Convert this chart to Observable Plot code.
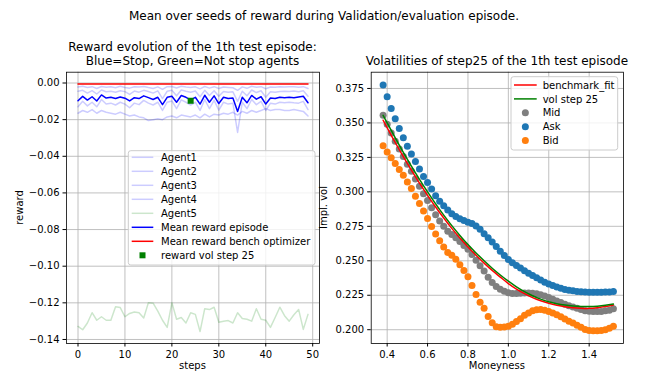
<!DOCTYPE html>
<html><head><meta charset="utf-8">
<script src="https://cdn.jsdelivr.net/npm/d3@7"></script>
<script src="https://cdn.jsdelivr.net/npm/@observablehq/plot@0.6"></script>
<style>
html,body{margin:0;padding:0;background:#fff;}
#root{position:relative;width:648px;height:377px;overflow:hidden;background:#fff;font-family:"DejaVu Sans",sans-serif;}
</style></head><body><div id="root"></div>
<script>
// ---------------- Left panel data ----------------
const steps = [0,1,2,3,4,5,6,7,8,9,10,11,12,13,14,15,16,17,18,19,20,21,22,23,24,25,26,27,28,29,30,31,32,33,34,35,36,37,38,39,40,41,42,43,44,45,46,47,48,49];
const agent1 = [-0.0022,-0.0018,-0.0025,-0.0020,-0.0030,-0.0019,-0.0023,-0.0021,-0.0026,-0.0018,-0.0024,-0.0028,-0.0020,-0.0022,-0.0019,-0.0025,-0.0030,-0.0021,-0.0035,-0.0020,-0.0019,-0.0027,-0.0018,-0.0022,-0.0024,-0.0021,-0.0032,-0.0019,-0.0028,-0.0020,-0.0030,-0.0022,-0.0024,-0.0026,-0.0040,-0.0021,-0.0029,-0.0018,-0.0023,-0.0020,-0.0031,-0.0022,-0.0023,-0.0021,-0.0022,-0.0020,-0.0021,-0.0023,-0.0020,-0.0030];
const agent2 = [-0.0045,-0.0040,-0.0055,-0.0042,-0.0060,-0.0038,-0.0048,-0.0045,-0.0050,-0.0042,-0.0047,-0.0062,-0.0044,-0.0050,-0.0040,-0.0046,-0.0055,-0.0043,-0.0085,-0.0045,-0.0040,-0.0070,-0.0038,-0.0045,-0.0050,-0.0044,-0.0075,-0.0040,-0.0068,-0.0042,-0.0072,-0.0046,-0.0050,-0.0048,-0.0100,-0.0045,-0.0070,-0.0038,-0.0052,-0.0042,-0.0078,-0.0048,-0.0050,-0.0046,-0.0045,-0.0046,-0.0044,-0.0048,-0.0042,-0.0072];
const agent3 = [-0.0130,-0.0100,-0.0125,-0.0105,-0.0130,-0.0090,-0.0115,-0.0110,-0.0120,-0.0105,-0.0115,-0.0135,-0.0110,-0.0118,-0.0095,-0.0110,-0.0120,-0.0105,-0.0150,-0.0105,-0.0098,-0.0140,-0.0092,-0.0105,-0.0120,-0.0105,-0.0150,-0.0090,-0.0140,-0.0095,-0.0148,-0.0105,-0.0115,-0.0110,-0.0270,-0.0105,-0.0140,-0.0090,-0.0118,-0.0100,-0.0150,-0.0110,-0.0115,-0.0105,-0.0108,-0.0105,-0.0108,-0.0110,-0.0100,-0.0145];
const agent4 = [-0.0165,-0.0150,-0.0160,-0.0145,-0.0165,-0.0150,-0.0160,-0.0165,-0.0170,-0.0160,-0.0170,-0.0180,-0.0175,-0.0185,-0.0190,-0.0205,-0.0200,-0.0195,-0.0200,-0.0185,-0.0180,-0.0190,-0.0175,-0.0180,-0.0185,-0.0175,-0.0190,-0.0170,-0.0185,-0.0170,-0.0175,-0.0165,-0.0170,-0.0160,-0.0175,-0.0155,-0.0165,-0.0150,-0.0160,-0.0150,-0.0140,-0.0150,-0.0145,-0.0145,-0.0150,-0.0150,-0.0145,-0.0150,-0.0155,-0.0180];
const agent5 = [-0.1329,-0.1347,-0.1310,-0.1254,-0.1295,-0.1276,-0.1295,-0.1295,-0.1221,-0.1226,-0.1276,-0.1258,-0.1250,-0.1254,-0.1283,-0.1199,-0.1202,-0.1245,-0.1295,-0.1334,-0.1199,-0.1290,-0.1280,-0.1310,-0.1254,-0.1263,-0.1357,-0.1232,-0.1237,-0.1224,-0.1306,-0.1300,-0.1297,-0.1310,-0.1254,-0.1286,-0.1290,-0.1300,-0.1232,-0.1290,-0.1295,-0.1334,-0.1280,-0.1224,-0.1270,-0.1300,-0.1265,-0.1236,-0.1345,-0.1263];
const meanRewardEpisode = [-0.0097,-0.0073,-0.0093,-0.0075,-0.0098,-0.0065,-0.0082,-0.0078,-0.0085,-0.0076,-0.0083,-0.0098,-0.0080,-0.0085,-0.0070,-0.0080,-0.0090,-0.0078,-0.0118,-0.0078,-0.0072,-0.0105,-0.0068,-0.0078,-0.0092,-0.0078,-0.0115,-0.0067,-0.0105,-0.0070,-0.0112,-0.0078,-0.0085,-0.0082,-0.0155,-0.0078,-0.0108,-0.0068,-0.0088,-0.0075,-0.0115,-0.0082,-0.0085,-0.0078,-0.0080,-0.0078,-0.0080,-0.0076,-0.0072,-0.0108];
const meanRewardBench = [-0.0006,-0.0006,-0.0006,-0.0006,-0.0006,-0.0006,-0.0006,-0.0006,-0.0006,-0.0006,-0.0006,-0.0006,-0.0006,-0.0006,-0.0006,-0.0006,-0.0006,-0.0006,-0.0006,-0.0006,-0.0006,-0.0006,-0.0006,-0.0006,-0.0006,-0.0006,-0.0006,-0.0006,-0.0006,-0.0006,-0.0006,-0.0006,-0.0006,-0.0006,-0.0006,-0.0006,-0.0006,-0.0006,-0.0006,-0.0006,-0.0006,-0.0006,-0.0006,-0.0006,-0.0006,-0.0006,-0.0006,-0.0006,-0.0006,-0.0006];
const volStepIndex = [24];
const volStepReward = [-0.0097];
const stepTicks = [0,10,20,30,40,50];
const rewardTicks = [0,-0.02,-0.04,-0.06,-0.08,-0.10,-0.12,-0.14];

// ---------------- Right panel data ----------------
const moneyness = [0.38,0.40,0.42,0.44,0.46,0.48,0.50,0.52,0.54,0.56,0.58,0.60,0.62,0.64,0.66,0.68,0.70,0.72,0.74,0.76,0.78,0.80,0.82,0.84,0.86,0.88,0.90,0.92,0.94,0.96,0.98,1.00,1.02,1.04,1.06,1.08,1.10,1.12,1.14,1.16,1.18,1.20,1.22,1.24,1.26,1.28,1.30,1.32,1.34,1.36,1.38,1.40,1.42,1.44,1.46,1.48,1.50,1.52];
const askVol = [0.3775,0.3690,0.3605,0.3530,0.3460,0.3393,0.3330,0.3275,0.3220,0.3165,0.3112,0.3068,0.3020,0.2972,0.2932,0.2900,0.2868,0.2842,0.2822,0.2805,0.2792,0.2780,0.2770,0.2752,0.2728,0.2697,0.2667,0.2636,0.2603,0.2570,0.2538,0.2510,0.2485,0.2465,0.2447,0.2428,0.2410,0.2393,0.2377,0.2360,0.2345,0.2332,0.2320,0.2310,0.2300,0.2292,0.2286,0.2282,0.2278,0.2275,0.2273,0.2272,0.2272,0.2272,0.2272,0.2273,0.2274,0.2278];
const midVol = [0.3555,0.3490,0.3427,0.3368,0.3311,0.3257,0.3201,0.3150,0.3094,0.3040,0.2987,0.2937,0.2884,0.2834,0.2789,0.2750,0.2714,0.2691,0.2667,0.2639,0.2611,0.2583,0.2545,0.2504,0.2464,0.2426,0.2381,0.2343,0.2313,0.2294,0.2279,0.2268,0.2263,0.2263,0.2264,0.2267,0.2266,0.2265,0.2261,0.2253,0.2244,0.2233,0.2221,0.2209,0.2197,0.2185,0.2174,0.2165,0.2155,0.2146,0.2138,0.2134,0.2132,0.2132,0.2133,0.2137,0.2142,0.2152];
const bidVol = [0.3335,0.3290,0.3248,0.3205,0.3162,0.3120,0.3072,0.3024,0.2968,0.2915,0.2861,0.2806,0.2748,0.2695,0.2645,0.2600,0.2560,0.2540,0.2512,0.2472,0.2430,0.2385,0.2320,0.2255,0.2200,0.2155,0.2095,0.2050,0.2022,0.2018,0.2020,0.2025,0.2040,0.2060,0.2080,0.2105,0.2122,0.2137,0.2145,0.2146,0.2142,0.2133,0.2122,0.2108,0.2094,0.2078,0.2062,0.2048,0.2032,0.2017,0.2002,0.1995,0.1992,0.1992,0.1994,0.2000,0.2010,0.2025];
const fitMoneyness = [0.38,0.40,0.44,0.48,0.52,0.56,0.60,0.64,0.68,0.72,0.76,0.80,0.84,0.88,0.92,0.96,1.00,1.04,1.08,1.12,1.16,1.20,1.24,1.28,1.32,1.36,1.40,1.44,1.48,1.52];
const benchmarkFit = [0.3520,0.3465,0.3358,0.3255,0.3157,0.3063,0.2975,0.2890,0.2810,0.2735,0.2665,0.2600,0.2540,0.2483,0.2430,0.2382,0.2335,0.2295,0.2262,0.2233,0.2210,0.2192,0.2178,0.2167,0.2160,0.2156,0.2155,0.2160,0.2168,0.2180];
const volStep25 = [0.3555,0.3500,0.3392,0.3287,0.3187,0.3091,0.3000,0.2913,0.2831,0.2755,0.2684,0.2618,0.2557,0.2500,0.2446,0.2397,0.2352,0.2311,0.2276,0.2246,0.2222,0.2203,0.2189,0.2179,0.2172,0.2168,0.2168,0.2171,0.2177,0.2186];
const moneyTicks = [0.4,0.6,0.8,1.0,1.2,1.4];
const volTicks = [0.200,0.225,0.250,0.275,0.300,0.325,0.350,0.375];

// ---------------- Styling ----------------
const FONT = '"DejaVu Sans", sans-serif';
const gridStyle = {stroke: "#b0b0b0", strokeOpacity: 1, strokeWidth: 0.8};
const root = document.getElementById("root");

function place(svg, left, top) {
  svg.style.position = "absolute";
  svg.style.left = left + "px";
  svg.style.top = top + "px";
  root.appendChild(svg);
}

// Left chart
const left = Plot.plot({
  width: 324, height: 315,
  marginLeft: 66, marginRight: 5, marginTop: 9.7, marginBottom: 34,
  style: {fontFamily: FONT, fontSize: "10px", color: "#000", background: "transparent", overflow: "visible"},
  x: {domain: [-2.45, 51.45]},
  y: {domain: [-0.1422, 0.0059]},
  marks: [
    Plot.gridX(stepTicks, gridStyle),
    Plot.gridY(rewardTicks, gridStyle),
    Plot.lineY(agent1, {x: steps, stroke: "#0000ff", strokeOpacity: 0.2, strokeWidth: 1.5}),
    Plot.lineY(agent2, {x: steps, stroke: "#0000ff", strokeOpacity: 0.2, strokeWidth: 1.5}),
    Plot.lineY(agent3, {x: steps, stroke: "#0000ff", strokeOpacity: 0.2, strokeWidth: 1.5}),
    Plot.lineY(agent4, {x: steps, stroke: "#0000ff", strokeOpacity: 0.2, strokeWidth: 1.5}),
    Plot.lineY(agent5, {x: steps, stroke: "#008000", strokeOpacity: 0.2, strokeWidth: 1.5}),
    Plot.lineY(meanRewardEpisode, {x: steps, stroke: "#0000ff", strokeWidth: 1.5}),
    Plot.lineY(meanRewardBench, {x: steps, stroke: "#ff0000", strokeWidth: 1.5}),
    Plot.dot(volStepReward, {x: volStepIndex, y: volStepReward, symbol: "square", r: 3.4, fill: "#008000", stroke: null}),
    Plot.frame({stroke: "#000", strokeWidth: 0.8}),
    Plot.axisX(stepTicks, {tickSize: 3.5, tickPadding: 3.5, label: null, tickFormat: d => String(d)}),
    Plot.axisY(rewardTicks, {tickSize: 3.5, tickPadding: 3.5, label: null, tickFormat: d3.format(".2f")})
  ]
});
place(left, 0, 62);

// Right chart
const right = Plot.plot({
  width: 348, height: 315,
  marginLeft: 70.7, marginRight: 25, marginTop: 9.7, marginBottom: 34,
  style: {fontFamily: FONT, fontSize: "10px", color: "#000", background: "transparent", overflow: "visible"},
  x: {domain: [0.321, 1.570]},
  y: {domain: [0.1900, 0.3868]},
  marks: [
    Plot.gridX(moneyTicks, gridStyle),
    Plot.gridY(volTicks, gridStyle),
    Plot.dot(midVol, {x: moneyness, y: midVol, r: 3.5, fill: "#7f7f7f", stroke: null}),
    Plot.dot(askVol, {x: moneyness, y: askVol, r: 3.5, fill: "#1f77b4", stroke: null}),
    Plot.dot(bidVol, {x: moneyness, y: bidVol, r: 3.5, fill: "#ff7f0e", stroke: null}),
    Plot.line(benchmarkFit, {x: fitMoneyness, y: benchmarkFit, stroke: "#ff0000", strokeWidth: 1.5, curve: "natural"}),
    Plot.line(volStep25, {x: fitMoneyness, y: volStep25, stroke: "#008000", strokeWidth: 1.5, curve: "natural"}),
    Plot.frame({stroke: "#000", strokeWidth: 0.8}),
    Plot.axisX(moneyTicks, {tickSize: 3.5, tickPadding: 3.5, label: null, tickFormat: d3.format(".1f")}),
    Plot.axisY(volTicks, {tickSize: 3.5, tickPadding: 3.5, label: null, tickFormat: d3.format(".3f")})
  ]
});
place(right, 300, 62);

// ---------------- Overlay: titles, labels, legends ----------------
const ov = d3.select(root).append("svg")
  .attr("width", 648).attr("height", 377)
  .style("position", "absolute").style("left", "0px").style("top", "0px")
  .style("font-family", FONT);

function txt(x, y, s, size, anchor = "middle", rotate = false) {
  const t = ov.append("text").attr("x", x).attr("y", y).attr("font-size", size)
    .attr("text-anchor", anchor).attr("fill", "#000").text(s);
  if (rotate) t.attr("transform", `rotate(-90 ${x} ${y})`);
  return t;
}
txt(324, 19.5, "Mean over seeds of reward during Validation/evaluation episode.", 12);
txt(192.5, 50.6, "Reward evolution of the 1th test episode:", 12);
txt(192.5, 65, "Blue=Stop, Green=Not stop agents", 12);
txt(496.9, 65, "Volatilities of step25 of the 1th test episode", 12);
txt(192.5, 368.5, "steps", 10);
txt(496.9, 369, "Moneyness", 10);
txt(22.5, 207.5, "reward", 10, "middle", true);
txt(326.5, 207.5, "Impl. vol", 10, "middle", true);

// Left legend
const legLeft = [
  {label: "Agent1", type: "line", color: "#0000ff", opacity: 0.2},
  {label: "Agent2", type: "line", color: "#0000ff", opacity: 0.2},
  {label: "Agent3", type: "line", color: "#0000ff", opacity: 0.2},
  {label: "Agent4", type: "line", color: "#0000ff", opacity: 0.2},
  {label: "Agent5", type: "line", color: "#008000", opacity: 0.2},
  {label: "Mean reward episode", type: "line", color: "#0000ff", opacity: 1},
  {label: "Mean reward bench optimizer", type: "line", color: "#ff0000", opacity: 1},
  {label: "reward vol step 25", type: "square", color: "#008000", opacity: 1}
];
const legRight = [
  {label: "benchmark_fit", type: "line", color: "#ff0000", opacity: 1},
  {label: "vol step 25", type: "line", color: "#008000", opacity: 1},
  {label: "Mid", type: "dot", color: "#7f7f7f", opacity: 1},
  {label: "Ask", type: "dot", color: "#1f77b4", opacity: 1},
  {label: "Bid", type: "dot", color: "#ff7f0e", opacity: 1}
];
function legend(items, bx, by, bw, bh, hx1, hx2, tx, firstCenter, rowStep) {
  ov.append("rect").attr("x", bx).attr("y", by).attr("width", bw).attr("height", bh)
    .attr("rx", 2.5).attr("fill", "#fff").attr("fill-opacity", 0.8)
    .attr("stroke", "#cccccc").attr("stroke-width", 1);
  items.forEach((it, i) => {
    const cy = firstCenter + i * rowStep;
    if (it.type === "line") {
      ov.append("line").attr("x1", hx1).attr("x2", hx2).attr("y1", cy).attr("y2", cy)
        .attr("stroke", it.color).attr("stroke-opacity", it.opacity).attr("stroke-width", 1.5);
    } else if (it.type === "square") {
      const cx = (hx1 + hx2) / 2;
      ov.append("rect").attr("x", cx - 3).attr("y", cy - 3).attr("width", 6).attr("height", 6).attr("fill", it.color);
    } else {
      const cx = (hx1 + hx2) / 2;
      ov.append("circle").attr("cx", cx).attr("cy", cy).attr("r", 3.5).attr("fill", it.color);
    }
    txt(tx, cy + 3.6, it.label, 10, "start");
  });
}
legend(legLeft, 128.3, 150.7, 186.7, 114.3, 131.7, 153.3, 161, 157.3, 14);
legend(legRight, 511, 76.7, 106.7, 73.3, 514, 536.7, 542.7, 85, 13.9);
</script>
</body></html>
